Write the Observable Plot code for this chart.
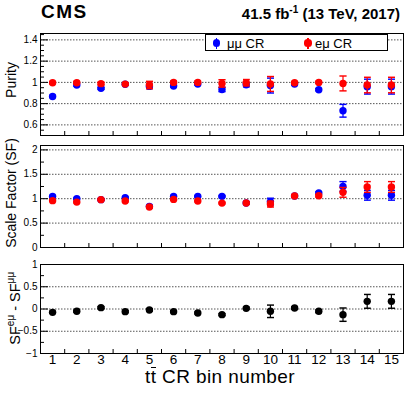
<!DOCTYPE html>
<html><head><meta charset="utf-8">
<script src="https://cdn.jsdelivr.net/npm/d3@7"></script>
<script src="https://cdn.jsdelivr.net/npm/@observablehq/plot@0.6"></script>
<style>
body{margin:0;background:#fff;}
#wrap{position:relative;width:411px;height:393px;overflow:hidden;font-family:"Liberation Sans",Arial,sans-serif;color:#000;}
.panel{position:absolute;left:0;}
.abs{position:absolute;white-space:nowrap;}
.ytitle{position:absolute;text-align:center;transform:rotate(-90deg);white-space:nowrap;}
</style></head><body><div id="wrap"></div>
<script>
// ---------- data ----------
const bins = [1,2,3,4,5,6,7,8,9,10,11,12,13,14,15];
const binEdges = [1.5,2.5,3.5,4.5,5.5,6.5,7.5,8.5,9.5,10.5,11.5,12.5,13.5,14.5];

const purityMuMu    = [0.867,0.975,0.944,0.982,0.962,0.966,0.984,0.933,0.978,0.970,0.985,0.931,0.733,0.960,0.960];
const purityMuMuErr = [0.010,0.010,0.010,0.010,0.020,0.010,0.010,0.020,0.020,0.070,0.010,0.010,0.060,0.070,0.070];
const purityEMu     = [0.997,0.997,0.988,0.984,0.975,1.000,1.000,0.990,0.997,0.985,0.997,1.000,0.990,0.975,0.975];
const purityEMuErr  = [0.010,0.012,0.012,0.010,0.035,0.012,0.012,0.035,0.030,0.070,0.010,0.010,0.070,0.073,0.073];

const sfMuMu    = [1.048,1.000,0.980,1.020,0.843,1.048,1.048,1.048,0.912,0.940,1.054,1.116,1.250,1.070,1.070];
const sfMuMuErr = [0.015,0.015,0.015,0.015,0.020,0.015,0.015,0.015,0.020,0.070,0.020,0.025,0.100,0.100,0.100];
const sfEMu     = [0.960,0.930,0.980,0.952,0.830,0.986,0.952,0.910,0.912,0.890,1.054,1.060,1.130,1.240,1.240];
const sfEMuErr  = [0.015,0.015,0.015,0.015,0.020,0.015,0.015,0.015,0.020,0.060,0.020,0.025,0.100,0.110,0.110];

const sfDiff    = [-0.075,-0.052,0.030,-0.060,-0.022,-0.060,-0.090,-0.127,0.015,-0.052,0.022,-0.052,-0.127,0.172,0.172];
const sfDiffErr = [0.020,0.020,0.020,0.020,0.025,0.020,0.020,0.020,0.025,0.140,0.025,0.030,0.150,0.155,0.155];

const purityTicks = [0.6,0.8,1,1.2,1.4];
const purityMinor = [0.55,0.65,0.7,0.75,0.85,0.9,0.95,1.05,1.1,1.15,1.25,1.3,1.35,1.45];
const sfTicks = [0,0.5,1,1.5,2];
const sfMinor = [0.25,0.75,1.25,1.75];
const diffTicks = [-1,-0.5,0,0.5,1];
const diffMinor = [-0.75,-0.25,0.25,0.75];

// ---------- drawing ----------
const W = 411, ML = 40, MR = 8;
const fmt = d => (d < 0 ? "\u2212" : "") + Math.abs(d);
const series = (v, e) => bins.map((b, i) => ({bin: b, v: v[i], e: e[i]}));

function errMarks(data, color) {
  return [
    Plot.link(data, {x1: "bin", x2: "bin", y1: d => d.v - d.e, y2: d => d.v + d.e,
      stroke: color, strokeWidth: 1.2, markerStart: "tick", markerEnd: "tick"}),
    Plot.dot(data, {x: "bin", y: "v", r: 3.7, fill: color, stroke: "none"})
  ];
}

function panel(o) {
  const fw = W - ML - MR;
  const fh = o.height - o.mt - o.mb;
  const marks = [
    Plot.ruleY(o.major, {stroke: "#555", strokeDasharray: "1.5,1.5"}),
    Plot.tickY(o.major, {stroke: "#000", insetRight: fw - 8}),
    Plot.tickY(o.minor, {stroke: "#000", insetRight: fw - 4}),
    Plot.tickX(binEdges, {stroke: "#000", insetTop: fh - 4}),
    Plot.axisY(o.major, {tickSize: 0, tickPadding: 3, fontSize: 10, tickFormat: fmt, label: null}),
  ];
  if (o.xLabels) marks.push(Plot.axisX(bins, {tickSize: 0, tickPadding: 1, fontSize: 13.5, label: null}));
  for (const s of o.series) marks.push(...errMarks(s.data, s.color));
  marks.push(Plot.frame({stroke: "#000"}));
  const svg = Plot.plot({
    width: W, height: o.height,
    marginLeft: ML, marginRight: MR, marginTop: o.mt, marginBottom: o.mb,
    x: {type: "linear", domain: [0.5, 15.5], axis: null, label: null},
    y: {type: "linear", domain: o.domain, axis: null, label: null},
    style: {fontFamily: '"Liberation Sans", Arial, sans-serif', color: "#000", background: "transparent", overflow: "visible"},
    marks
  });
  svg.classList.add("panel");
  svg.style.top = o.top + "px";
  return svg;
}

const wrap = document.getElementById("wrap");

wrap.appendChild(panel({top: 0, height: 140, mt: 33, mb: 5, domain: [0.5, 1.46],
  major: purityTicks, minor: purityMinor,
  series: [{data: series(purityMuMu, purityMuMuErr), color: "#0000ff"},
           {data: series(purityEMu, purityEMuErr), color: "#ff0000"}]}));

wrap.appendChild(panel({top: 140, height: 112, mt: 5, mb: 5, domain: [0, 2.09],
  major: sfTicks, minor: sfMinor,
  series: [{data: series(sfMuMu, sfMuMuErr), color: "#0000ff"},
           {data: series(sfEMu, sfEMuErr), color: "#ff0000"}]}));

wrap.appendChild(panel({top: 252, height: 141, mt: 12, mb: 40, domain: [-1, 1],
  major: diffTicks, minor: diffMinor, xLabels: true,
  series: [{data: series(sfDiff, sfDiffErr), color: "#000000"}]}));

// ---------- texts ----------
function add(html, css, cls = "abs") {
  const d = document.createElement("div");
  d.className = cls;
  d.innerHTML = html;
  Object.assign(d.style, css);
  wrap.appendChild(d);
  return d;
}
add("CMS", {left: "41px", top: "2px", fontSize: "19px", lineHeight: "19px", fontWeight: "bold", letterSpacing: "1.5px"});
add('41.5 fb<sup style="font-size:10px;vertical-align:6px;line-height:0">-1</sup> (13 TeV, 2017)',
  {right: "11px", top: "5.5px", fontSize: "15px", lineHeight: "15px", fontWeight: "bold"});

function ytitle(html, cx, cy, fs, w) {
  add(html, {left: (cx - w / 2) + "px", top: (cy - fs / 2) + "px", width: w + "px",
    fontSize: fs + "px", lineHeight: fs + "px"}, "ytitle");
}
ytitle("Purity", 11, 80, 14, 120);
ytitle("Scale Factor (SF)", 10.5, 193, 14, 140);
ytitle('SF<sup style="font-size:10px;vertical-align:6px;line-height:0">eμ</sup> - SF<sup style="font-size:10px;vertical-align:6px;line-height:0">μμ</sup>', 14.5, 308, 14.5, 120);

add('t<span style="display:inline-block;border-top:1.5px solid #000;line-height:18px;vertical-align:baseline">t</span> CR bin number',
  {left: "70px", width: "300px", textAlign: "center", top: "367px", fontSize: "19px", lineHeight: "16px", letterSpacing: "0.4px"});

// ---------- legend ----------
add("", {left: "205px", top: "34px", width: "181px", height: "15px", border: "1px solid #000", background: "#fff"});
function legendEntry(cx, color, label, tx) {
  add("", {left: (cx - 0.6) + "px", top: "37.5px", width: "1.2px", height: "11px", background: color});
  add("", {left: (cx - 3.6) + "px", top: "39.4px", width: "7.2px", height: "7.2px", borderRadius: "50%", background: color});
  add(label, {left: tx + "px", top: "36.5px", fontSize: "13px", lineHeight: "13px"});
}
legendEntry(216.7, "#0000ff", "μμ CR", 227);
legendEntry(308, "#ff0000", "eμ CR", 315);
</script></body></html>
